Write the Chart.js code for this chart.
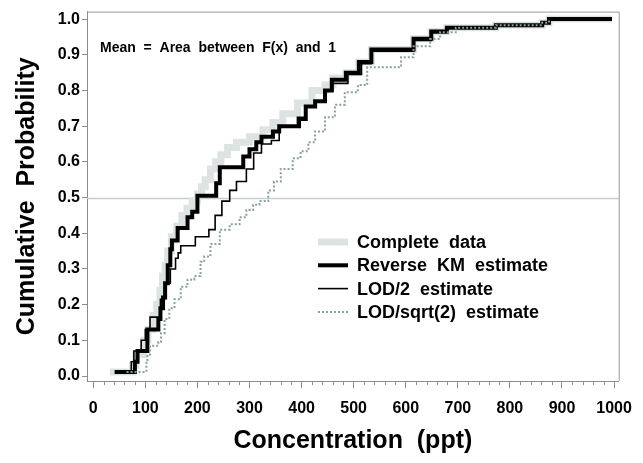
<!DOCTYPE html>
<html>
<head>
<meta charset="utf-8">
<script src="https://cdn.jsdelivr.net/npm/chart.js@4.4.1/dist/chart.umd.min.js"></script>
<style>
  html, body { margin: 0; padding: 0; background: #fff; }
  #wrap { width: 643px; height: 463px; }
</style>
</head>
<body>
<div id="wrap"><canvas id="cdfChart"></canvas></div>
<script>
// step points: x = concentration where F jumps, y = new F value
const completeX = [32, 75, 82, 97, 105, 115, 122, 128, 133, 138, 143, 150, 160, 170, 180, 190, 200, 208, 215, 225, 235, 245, 258, 275, 300, 326, 345, 364, 392, 420, 445, 460, 485, 510, 534, 615, 649, 679, 773, 862, 875, 996];
const completeY = [0.011, 0.03, 0.06, 0.10, 0.13, 0.17, 0.20, 0.24, 0.28, 0.31, 0.35, 0.39, 0.42, 0.45, 0.47, 0.49, 0.51, 0.53, 0.55, 0.58, 0.60, 0.62, 0.64, 0.655, 0.67, 0.69, 0.71, 0.735, 0.765, 0.80, 0.815, 0.835, 0.85, 0.88, 0.915, 0.945, 0.965, 0.976, 0.983, 0.99, 1.0, 1.0];

const rkmX = [41, 80, 85, 104, 125, 129, 134, 138, 143, 148, 151, 162, 181, 190, 200, 236, 243, 288, 300, 313, 323, 345, 357, 395, 408, 426, 445, 458, 485, 510, 534, 615, 649, 679, 773, 862, 875, 996];
const rkmY = [0.011, 0.04, 0.07, 0.13, 0.16, 0.19, 0.22, 0.26, 0.31, 0.355, 0.38, 0.415, 0.445, 0.46, 0.505, 0.54, 0.585, 0.615, 0.635, 0.655, 0.67, 0.685, 0.70, 0.72, 0.755, 0.77, 0.80, 0.83, 0.85, 0.88, 0.915, 0.945, 0.965, 0.976, 0.983, 0.99, 1.0, 1.0];

const lod2X = [45, 73, 78, 92, 100, 109, 129, 137, 148, 158, 163, 168, 196, 222, 234, 247, 262, 275, 294, 308, 323, 342, 357, 392, 408, 426, 445, 460, 489, 515, 534, 615, 649, 679, 773, 862, 875, 996];
const lod2Y = [0.011, 0.04, 0.07, 0.10, 0.13, 0.165, 0.215, 0.26, 0.30, 0.33, 0.345, 0.365, 0.39, 0.41, 0.45, 0.49, 0.52, 0.545, 0.58, 0.625, 0.65, 0.66, 0.70, 0.725, 0.755, 0.77, 0.80, 0.82, 0.845, 0.875, 0.91, 0.94, 0.962, 0.976, 0.983, 0.99, 1.0, 1.0];

const lodSqrtX = [64, 102, 104, 109, 125, 130, 137, 146, 156, 168, 181, 194, 206, 213, 225, 243, 262, 281, 294, 307, 319, 336, 347, 360, 383, 398, 413, 426, 445, 464, 483, 508, 526, 591, 615, 647, 666, 696, 773, 862, 875];
const lodSqrtY = [0.011, 0.04, 0.06, 0.085, 0.095, 0.12, 0.16, 0.19, 0.215, 0.25, 0.27, 0.28, 0.32, 0.335, 0.37, 0.41, 0.425, 0.445, 0.465, 0.48, 0.49, 0.52, 0.545, 0.58, 0.61, 0.63, 0.655, 0.685, 0.725, 0.76, 0.795, 0.815, 0.865, 0.893, 0.924, 0.944, 0.963, 0.976, 0.983, 0.99, 1.0];

const seriesLabels = ['Complete  data', 'Reverse  KM  estimate', 'LOD/2  estimate', 'LOD/sqrt(2)  estimate'];

Chart.defaults.font.family = '"Liberation Sans", Arial, sans-serif';

function toPoints(xs, ys) {
    return xs.map((x, i) => ({ x: x, y: ys[i] }));
}

const extras = {
    id: 'extras',
    beforeDatasetsDraw(chart) {
        const { ctx, chartArea: a, scales: { y } } = chart;
        const py = Math.round(y.getPixelForValue(0.5)) + 0.5;
        ctx.save();
        ctx.strokeStyle = '#c4d0d0';
        ctx.lineWidth = 1.5;
        ctx.beginPath();
        ctx.moveTo(a.left, py);
        ctx.lineTo(a.right, py);
        ctx.stroke();
        ctx.restore();
    },
    afterDraw(chart) {
        const { ctx, chartArea: a, scales: { x } } = chart;
        ctx.save();

        // top and right frame
        ctx.strokeStyle = '#9a9a9a';
        ctx.lineWidth = 1;
        ctx.beginPath();
        ctx.moveTo(a.left, a.top + 0.5);
        ctx.lineTo(a.right + 0.5, a.top + 0.5);
        ctx.lineTo(a.right + 0.5, a.bottom);
        ctx.stroke();

        // minor ticks on x
        ctx.strokeStyle = '#8c8c8c';
        ctx.beginPath();
        for (let v = 20; v < 1000; v += 20) {
            if (v % 100 === 0) continue;
            const px = Math.round(x.getPixelForValue(v)) + 0.5;
            ctx.moveTo(px, a.bottom);
            ctx.lineTo(px, a.bottom + 4);
        }
        ctx.stroke();

        // note
        ctx.fillStyle = '#000';
        ctx.font = 'bold 14px "Liberation Sans", Arial, sans-serif';
        ctx.textBaseline = 'middle';
        ctx.fillText('Mean  =  Area  between  F(x)  and  1', 100, 48);

        // legend
        ctx.font = 'bold 18px "Liberation Sans", Arial, sans-serif';
        chart.data.datasets.forEach((ds, i) => {
            const ly = 242 + i * 23.3;
            ctx.strokeStyle = ds.borderColor;
            ctx.lineWidth = ds.borderWidth;
            ctx.setLineDash(ds.borderDash || []);
            ctx.beginPath();
            ctx.moveTo(318, ly);
            ctx.lineTo(348, ly);
            ctx.stroke();
            ctx.setLineDash([]);
            ctx.fillStyle = '#000';
            ctx.fillText(ds.label, 357, ly + 1);
        });
        ctx.restore();
    }
};

const ctx = document.getElementById('cdfChart');
new Chart(ctx, {
    type: 'scatter',
    data: {
        datasets: [
            { label: seriesLabels[0], data: toPoints(completeX, completeY), borderColor: '#dde3e3', borderWidth: 7, order: 4 },
            { label: seriesLabels[1], data: toPoints(rkmX, rkmY), borderColor: '#000000', borderWidth: 4, order: 2 },
            { label: seriesLabels[2], data: toPoints(lod2X, lod2Y), borderColor: '#000000', borderWidth: 1.6, order: 3 },
            { label: seriesLabels[3], data: toPoints(lodSqrtX, lodSqrtY), borderColor: '#8a9f9f', borderWidth: 2, borderDash: [2, 2], order: 1 }
        ]
    },
    options: {
        responsive: true,
        maintainAspectRatio: false,
        animation: false,
        layout: { padding: { top: 11, right: 15, left: 0, bottom: 0 } },
        datasets: { scatter: { showLine: true, stepped: true, pointRadius: 0, fill: false } },
        plugins: { legend: { display: false }, tooltip: { enabled: false } },
        scales: {
            x: {
                type: 'linear',
                min: -12,
                max: 1009,
                ticks: {
                    stepSize: 100,
                    includeBounds: false,
                    autoSkip: false,
                    maxRotation: 0,
                    padding: 11,
                    color: '#000',
                    font: { size: 16, weight: 'bold' },
                    callback: v => String(v)
                },
                grid: { drawOnChartArea: false, tickLength: 7, color: '#8c8c8c' },
                border: { color: '#8c8c8c' },
                title: {
                    display: true,
                    text: 'Concentration  (ppt)',
                    color: '#000',
                    font: { size: 25, weight: 'bold' },
                    padding: { top: 0, bottom: 7 }
                },
                afterFit(scale) { scale.height = 82; }
            },
            y: {
                min: -0.014,
                max: 1.021,
                ticks: {
                    stepSize: 0.1,
                    includeBounds: false,
                    padding: 2,
                    color: '#000',
                    font: { size: 16, weight: 'bold' },
                    callback: v => v.toFixed(1)
                },
                grid: { drawOnChartArea: false, tickLength: 5, color: '#8c8c8c' },
                border: { color: '#8c8c8c' },
                title: {
                    display: true,
                    text: 'Cumulative  Probability',
                    color: '#000',
                    font: { size: 25, weight: 'bold' },
                    padding: { top: 12, bottom: 0 }
                },
                afterFit(scale) { scale.width = 87; }
            }
        }
    },
    plugins: [extras]
});
</script>
</body>
</html>
